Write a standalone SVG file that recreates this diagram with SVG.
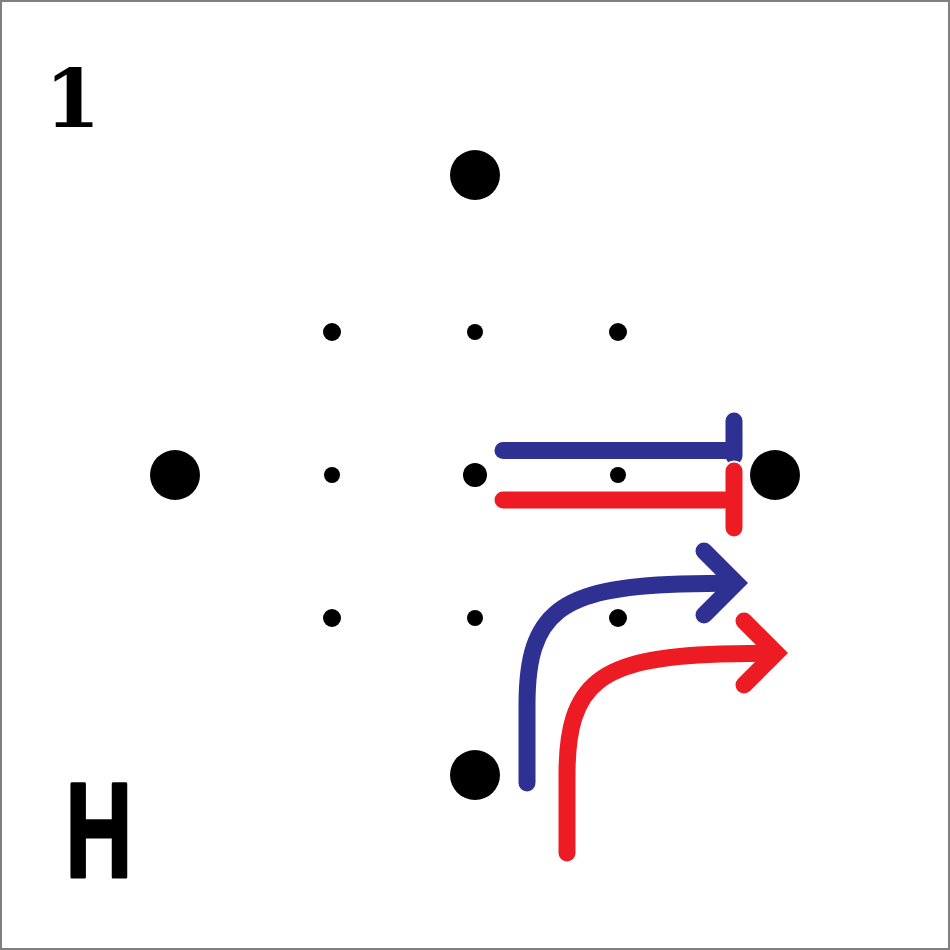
<svg xmlns="http://www.w3.org/2000/svg" width="950" height="950" viewBox="0 0 950 950">
<style>
.big{fill:#000}
.dot{fill:#000}
.b{stroke:#2e3192}
.r{stroke:#ed1c24}
.ln{fill:none;stroke-width:17;stroke-linecap:round}
.head{fill:none;stroke-width:17;stroke-linecap:round;stroke-linejoin:miter;stroke-miterlimit:10}
</style>
<rect x="1" y="1" width="948" height="948" fill="#fff" stroke="#808080" stroke-width="2"/>
<text x="72.5" y="127" font-family="DejaVu Serif, serif" font-weight="bold" font-size="80" text-anchor="middle">1</text>
<text transform="translate(99,877) scale(0.69,1)" font-family="Liberation Sans, Arial, sans-serif" font-weight="bold" font-size="135" text-anchor="middle" stroke="#000" stroke-width="3" stroke-linejoin="round">H</text>
<g id="nodes">
<g id="n-top"><circle class="big" cx="475" cy="175" r="25"/></g>
<g id="n-left"><circle class="big" cx="175" cy="475" r="25"/></g>
<g id="n-right"><circle class="big" cx="775" cy="475" r="25"/></g>
<g id="n-bottom"><circle class="big" cx="475" cy="775" r="25"/></g>
<g id="n-center"><circle class="dot" cx="475" cy="475" r="12"/></g>
<g id="g1"><circle class="dot" cx="332" cy="332" r="9"/></g>
<g id="g2"><circle class="dot" cx="475" cy="332" r="8"/></g>
<g id="g3"><circle class="dot" cx="618" cy="332" r="9"/></g>
<g id="g4"><circle class="dot" cx="332" cy="475" r="8"/></g>
<g id="g6"><circle class="dot" cx="618" cy="475" r="8"/></g>
<g id="g7"><circle class="dot" cx="332" cy="618" r="9"/></g>
<g id="g8"><circle class="dot" cx="475" cy="618" r="8"/></g>
<g id="g9"><circle class="dot" cx="618" cy="618" r="9"/></g>
</g>
<g id="connectors">
<g id="blue-inhibit">
<line class="ln b" x1="503" y1="450.5" x2="733" y2="450.5"/>
<line class="ln b" x1="734" y1="421" x2="734" y2="456"/>
</g>
<g id="red-inhibit">
<line x1="734" y1="471" x2="734" y2="528" stroke="#fff" stroke-width="21" stroke-linecap="round"/>
<line class="ln r" x1="503" y1="500" x2="733" y2="500"/>
<line class="ln r" x1="734" y1="471" x2="734" y2="528"/>
</g>
<g id="blue-arrow">
<path class="ln b" d="M527,783 L527,705 C527,612 560,588 680,584 L735,583"/>
<polyline class="head b" points="704,551 736,583 704,615"/>
</g>
<g id="red-arrow" transform="translate(40,70)">
<path class="ln r" d="M527,783 L527,705 C527,612 560,588 680,584 L735,583"/>
<polyline class="head r" points="704,551 736,583 704,615"/>
</g>
</g>
</svg>
